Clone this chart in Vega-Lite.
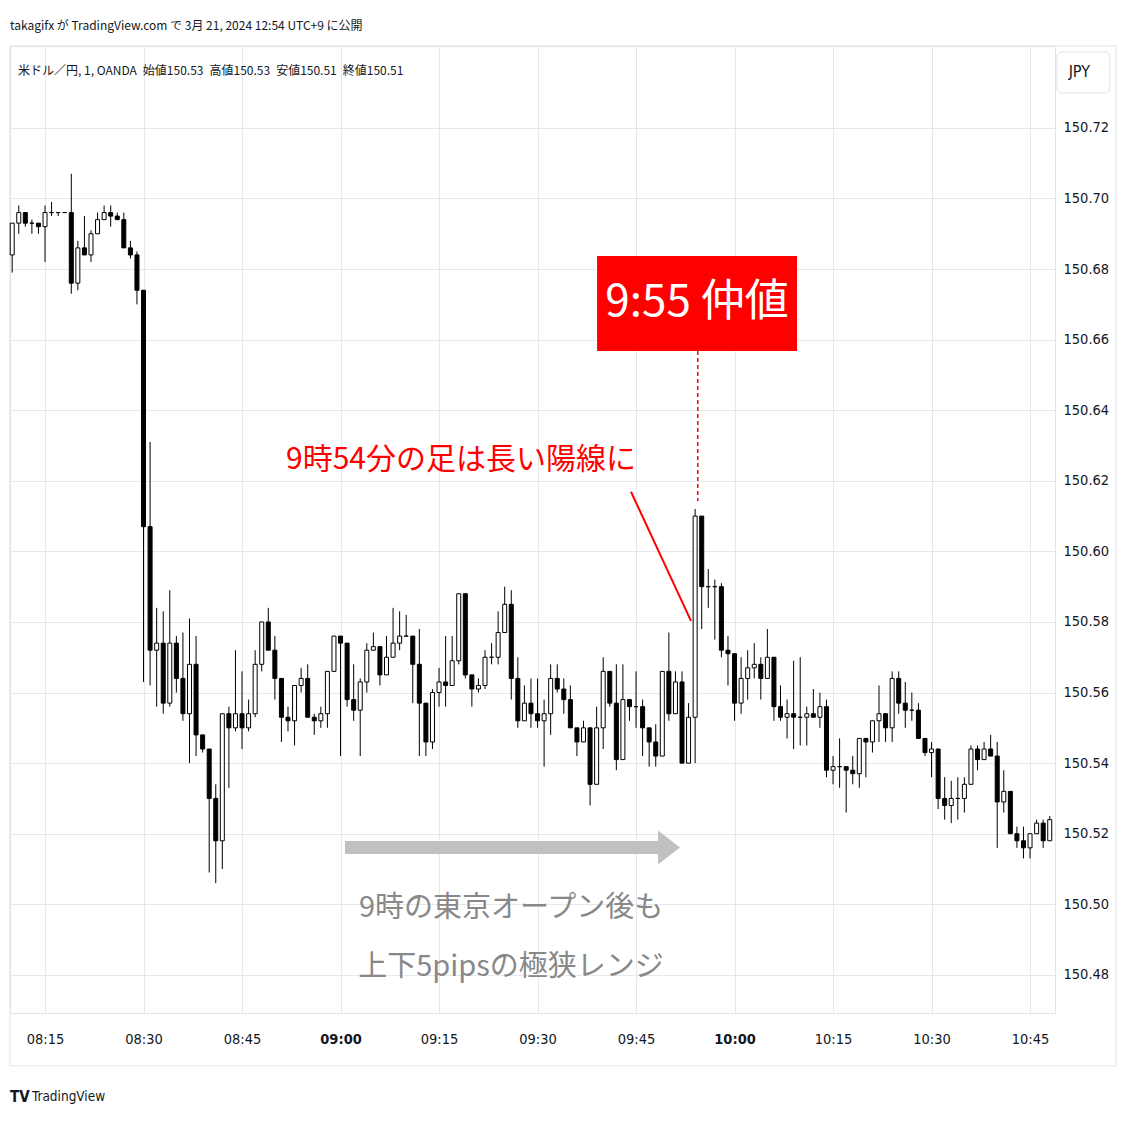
{
  "$schema": "https://vega.github.io/schema/vega-lite/v6.json",
  "width": 1045,
  "height": 967,
  "autosize": {"type": "none"},
  "padding": {"left": 10, "top": 46, "right": 70, "bottom": 112},
  "background": "#ffffff",
  "title": {"text": "takagifx が TradingView.com で 3月 21, 2024 12:54 UTC+9 に公開", "anchor": "start", "frame": "group", "orient": "top", "baseline": "bottom", "offset": 14, "dy": 13, "fontSize": 12, "fontWeight": "normal", "font": "Liberation Sans Narrow, Noto Sans CJK JP", "color": "#131722"},
  "config": {"view": {"stroke": "#e0e3eb", "strokeWidth": 1}, "font": "Noto Sans CJK JP"},
  "data": {"values": [
    {"t":"2024-03-21T08:10","o":150.684,"h":150.693,"l":150.679,"c":150.693},
    {"t":"2024-03-21T08:11","o":150.693,"h":150.698,"l":150.690,"c":150.696},
    {"t":"2024-03-21T08:12","o":150.696,"h":150.696,"l":150.692,"c":150.693},
    {"t":"2024-03-21T08:13","o":150.693,"h":150.694,"l":150.690,"c":150.693},
    {"t":"2024-03-21T08:14","o":150.693,"h":150.693,"l":150.690,"c":150.692},
    {"t":"2024-03-21T08:15","o":150.692,"h":150.698,"l":150.682,"c":150.696},
    {"t":"2024-03-21T08:16","o":150.696,"h":150.699,"l":150.695,"c":150.696},
    {"t":"2024-03-21T08:17","o":150.696,"h":150.696,"l":150.695,"c":150.696},
    {"t":"2024-03-21T08:18","o":150.696,"h":150.696,"l":150.696,"c":150.696},
    {"t":"2024-03-21T08:19","o":150.696,"h":150.707,"l":150.673,"c":150.676},
    {"t":"2024-03-21T08:20","o":150.676,"h":150.688,"l":150.674,"c":150.686},
    {"t":"2024-03-21T08:21","o":150.686,"h":150.695,"l":150.684,"c":150.684},
    {"t":"2024-03-21T08:22","o":150.684,"h":150.691,"l":150.682,"c":150.690},
    {"t":"2024-03-21T08:23","o":150.690,"h":150.696,"l":150.690,"c":150.694},
    {"t":"2024-03-21T08:24","o":150.694,"h":150.698,"l":150.694,"c":150.696},
    {"t":"2024-03-21T08:25","o":150.696,"h":150.698,"l":150.692,"c":150.695},
    {"t":"2024-03-21T08:26","o":150.695,"h":150.696,"l":150.694,"c":150.694},
    {"t":"2024-03-21T08:27","o":150.694,"h":150.696,"l":150.686,"c":150.686},
    {"t":"2024-03-21T08:28","o":150.686,"h":150.688,"l":150.683,"c":150.684},
    {"t":"2024-03-21T08:29","o":150.684,"h":150.685,"l":150.670,"c":150.674},
    {"t":"2024-03-21T08:30","o":150.674,"h":150.674,"l":150.563,"c":150.607},
    {"t":"2024-03-21T08:31","o":150.607,"h":150.631,"l":150.562,"c":150.572},
    {"t":"2024-03-21T08:32","o":150.572,"h":150.584,"l":150.556,"c":150.574},
    {"t":"2024-03-21T08:33","o":150.574,"h":150.583,"l":150.554,"c":150.557},
    {"t":"2024-03-21T08:34","o":150.557,"h":150.589,"l":150.556,"c":150.574},
    {"t":"2024-03-21T08:35","o":150.574,"h":150.576,"l":150.560,"c":150.564},
    {"t":"2024-03-21T08:36","o":150.564,"h":150.577,"l":150.552,"c":150.554},
    {"t":"2024-03-21T08:37","o":150.554,"h":150.581,"l":150.540,"c":150.568},
    {"t":"2024-03-21T08:38","o":150.568,"h":150.576,"l":150.542,"c":150.548},
    {"t":"2024-03-21T08:39","o":150.548,"h":150.548,"l":150.543,"c":150.544},
    {"t":"2024-03-21T08:40","o":150.544,"h":150.544,"l":150.509,"c":150.530},
    {"t":"2024-03-21T08:41","o":150.530,"h":150.534,"l":150.506,"c":150.518},
    {"t":"2024-03-21T08:42","o":150.518,"h":150.554,"l":150.510,"c":150.554},
    {"t":"2024-03-21T08:43","o":150.554,"h":150.556,"l":150.533,"c":150.550},
    {"t":"2024-03-21T08:44","o":150.550,"h":150.572,"l":150.549,"c":150.554},
    {"t":"2024-03-21T08:45","o":150.554,"h":150.566,"l":150.544,"c":150.550},
    {"t":"2024-03-21T08:46","o":150.550,"h":150.558,"l":150.549,"c":150.554},
    {"t":"2024-03-21T08:47","o":150.554,"h":150.572,"l":150.553,"c":150.568},
    {"t":"2024-03-21T08:48","o":150.568,"h":150.580,"l":150.566,"c":150.580},
    {"t":"2024-03-21T08:49","o":150.580,"h":150.584,"l":150.572,"c":150.572},
    {"t":"2024-03-21T08:50","o":150.572,"h":150.576,"l":150.558,"c":150.564},
    {"t":"2024-03-21T08:51","o":150.564,"h":150.564,"l":150.546,"c":150.553},
    {"t":"2024-03-21T08:52","o":150.553,"h":150.556,"l":150.549,"c":150.552},
    {"t":"2024-03-21T08:53","o":150.552,"h":150.562,"l":150.545,"c":150.562},
    {"t":"2024-03-21T08:54","o":150.562,"h":150.567,"l":150.560,"c":150.564},
    {"t":"2024-03-21T08:55","o":150.564,"h":150.568,"l":150.553,"c":150.553},
    {"t":"2024-03-21T08:56","o":150.553,"h":150.554,"l":150.548,"c":150.552},
    {"t":"2024-03-21T08:57","o":150.552,"h":150.556,"l":150.550,"c":150.554},
    {"t":"2024-03-21T08:58","o":150.554,"h":150.566,"l":150.550,"c":150.566},
    {"t":"2024-03-21T08:59","o":150.566,"h":150.576,"l":150.566,"c":150.576},
    {"t":"2024-03-21T09:00","o":150.576,"h":150.576,"l":150.542,"c":150.574},
    {"t":"2024-03-21T09:01","o":150.574,"h":150.574,"l":150.556,"c":150.558},
    {"t":"2024-03-21T09:02","o":150.558,"h":150.568,"l":150.552,"c":150.555},
    {"t":"2024-03-21T09:03","o":150.555,"h":150.564,"l":150.542,"c":150.563},
    {"t":"2024-03-21T09:04","o":150.563,"h":150.574,"l":150.560,"c":150.572},
    {"t":"2024-03-21T09:05","o":150.572,"h":150.577,"l":150.572,"c":150.573},
    {"t":"2024-03-21T09:06","o":150.573,"h":150.573,"l":150.562,"c":150.565},
    {"t":"2024-03-21T09:07","o":150.565,"h":150.576,"l":150.565,"c":150.570},
    {"t":"2024-03-21T09:08","o":150.570,"h":150.584,"l":150.570,"c":150.574},
    {"t":"2024-03-21T09:09","o":150.574,"h":150.583,"l":150.572,"c":150.576},
    {"t":"2024-03-21T09:10","o":150.576,"h":150.582,"l":150.576,"c":150.576},
    {"t":"2024-03-21T09:11","o":150.576,"h":150.576,"l":150.557,"c":150.568},
    {"t":"2024-03-21T09:12","o":150.568,"h":150.578,"l":150.542,"c":150.557},
    {"t":"2024-03-21T09:13","o":150.557,"h":150.557,"l":150.542,"c":150.546},
    {"t":"2024-03-21T09:14","o":150.546,"h":150.561,"l":150.544,"c":150.560},
    {"t":"2024-03-21T09:15","o":150.560,"h":150.567,"l":150.556,"c":150.563},
    {"t":"2024-03-21T09:16","o":150.563,"h":150.576,"l":150.556,"c":150.562},
    {"t":"2024-03-21T09:17","o":150.562,"h":150.576,"l":150.562,"c":150.569},
    {"t":"2024-03-21T09:18","o":150.569,"h":150.588,"l":150.568,"c":150.588},
    {"t":"2024-03-21T09:19","o":150.588,"h":150.588,"l":150.564,"c":150.565},
    {"t":"2024-03-21T09:20","o":150.565,"h":150.565,"l":150.556,"c":150.561},
    {"t":"2024-03-21T09:21","o":150.561,"h":150.564,"l":150.560,"c":150.562},
    {"t":"2024-03-21T09:22","o":150.562,"h":150.572,"l":150.561,"c":150.570},
    {"t":"2024-03-21T09:23","o":150.570,"h":150.574,"l":150.568,"c":150.570},
    {"t":"2024-03-21T09:24","o":150.570,"h":150.583,"l":150.568,"c":150.577},
    {"t":"2024-03-21T09:25","o":150.577,"h":150.590,"l":150.577,"c":150.585},
    {"t":"2024-03-21T09:26","o":150.585,"h":150.589,"l":150.558,"c":150.564},
    {"t":"2024-03-21T09:27","o":150.564,"h":150.570,"l":150.550,"c":150.552},
    {"t":"2024-03-21T09:28","o":150.552,"h":150.562,"l":150.552,"c":150.557},
    {"t":"2024-03-21T09:29","o":150.557,"h":150.564,"l":150.550,"c":150.554},
    {"t":"2024-03-21T09:30","o":150.554,"h":150.564,"l":150.550,"c":150.552},
    {"t":"2024-03-21T09:31","o":150.552,"h":150.558,"l":150.539,"c":150.554},
    {"t":"2024-03-21T09:32","o":150.554,"h":150.568,"l":150.548,"c":150.564},
    {"t":"2024-03-21T09:33","o":150.564,"h":150.568,"l":150.560,"c":150.561},
    {"t":"2024-03-21T09:34","o":150.561,"h":150.564,"l":150.554,"c":150.558},
    {"t":"2024-03-21T09:35","o":150.558,"h":150.562,"l":150.550,"c":150.550},
    {"t":"2024-03-21T09:36","o":150.550,"h":150.550,"l":150.542,"c":150.546},
    {"t":"2024-03-21T09:37","o":150.546,"h":150.552,"l":150.546,"c":150.550},
    {"t":"2024-03-21T09:38","o":150.550,"h":150.550,"l":150.528,"c":150.534},
    {"t":"2024-03-21T09:39","o":150.534,"h":150.556,"l":150.534,"c":150.550},
    {"t":"2024-03-21T09:40","o":150.550,"h":150.570,"l":150.544,"c":150.566},
    {"t":"2024-03-21T09:41","o":150.566,"h":150.566,"l":150.556,"c":150.557},
    {"t":"2024-03-21T09:42","o":150.557,"h":150.568,"l":150.538,"c":150.541},
    {"t":"2024-03-21T09:43","o":150.541,"h":150.568,"l":150.541,"c":150.558},
    {"t":"2024-03-21T09:44","o":150.558,"h":150.558,"l":150.552,"c":150.556},
    {"t":"2024-03-21T09:45","o":150.556,"h":150.566,"l":150.550,"c":150.556},
    {"t":"2024-03-21T09:46","o":150.556,"h":150.558,"l":150.542,"c":150.550},
    {"t":"2024-03-21T09:47","o":150.550,"h":150.550,"l":150.539,"c":150.546},
    {"t":"2024-03-21T09:48","o":150.546,"h":150.551,"l":150.539,"c":150.542},
    {"t":"2024-03-21T09:49","o":150.542,"h":150.566,"l":150.542,"c":150.566},
    {"t":"2024-03-21T09:50","o":150.566,"h":150.577,"l":150.552,"c":150.554},
    {"t":"2024-03-21T09:51","o":150.554,"h":150.566,"l":150.554,"c":150.563},
    {"t":"2024-03-21T09:52","o":150.563,"h":150.566,"l":150.540,"c":150.540},
    {"t":"2024-03-21T09:53","o":150.540,"h":150.557,"l":150.540,"c":150.553},
    {"t":"2024-03-21T09:54","o":150.553,"h":150.612,"l":150.540,"c":150.610},
    {"t":"2024-03-21T09:55","o":150.610,"h":150.610,"l":150.578,"c":150.590},
    {"t":"2024-03-21T09:56","o":150.590,"h":150.595,"l":150.584,"c":150.590},
    {"t":"2024-03-21T09:57","o":150.590,"h":150.592,"l":150.575,"c":150.590},
    {"t":"2024-03-21T09:58","o":150.590,"h":150.591,"l":150.570,"c":150.572},
    {"t":"2024-03-21T09:59","o":150.572,"h":150.576,"l":150.562,"c":150.571},
    {"t":"2024-03-21T10:00","o":150.571,"h":150.571,"l":150.552,"c":150.557},
    {"t":"2024-03-21T10:01","o":150.557,"h":150.570,"l":150.554,"c":150.564},
    {"t":"2024-03-21T10:02","o":150.564,"h":150.572,"l":150.558,"c":150.567},
    {"t":"2024-03-21T10:03","o":150.567,"h":150.574,"l":150.564,"c":150.568},
    {"t":"2024-03-21T10:04","o":150.568,"h":150.570,"l":150.558,"c":150.564},
    {"t":"2024-03-21T10:05","o":150.564,"h":150.578,"l":150.564,"c":150.570},
    {"t":"2024-03-21T10:06","o":150.570,"h":150.570,"l":150.552,"c":150.556},
    {"t":"2024-03-21T10:07","o":150.556,"h":150.562,"l":150.552,"c":150.553},
    {"t":"2024-03-21T10:08","o":150.553,"h":150.558,"l":150.547,"c":150.554},
    {"t":"2024-03-21T10:09","o":150.554,"h":150.569,"l":150.544,"c":150.553},
    {"t":"2024-03-21T10:10","o":150.553,"h":150.570,"l":150.545,"c":150.553},
    {"t":"2024-03-21T10:11","o":150.553,"h":150.556,"l":150.545,"c":150.554},
    {"t":"2024-03-21T10:12","o":150.554,"h":150.561,"l":150.553,"c":150.553},
    {"t":"2024-03-21T10:13","o":150.553,"h":150.560,"l":150.550,"c":150.556},
    {"t":"2024-03-21T10:14","o":150.556,"h":150.558,"l":150.536,"c":150.538},
    {"t":"2024-03-21T10:15","o":150.538,"h":150.542,"l":150.534,"c":150.539},
    {"t":"2024-03-21T10:16","o":150.539,"h":150.547,"l":150.533,"c":150.539},
    {"t":"2024-03-21T10:17","o":150.539,"h":150.539,"l":150.526,"c":150.538},
    {"t":"2024-03-21T10:18","o":150.538,"h":150.542,"l":150.534,"c":150.537},
    {"t":"2024-03-21T10:19","o":150.537,"h":150.547,"l":150.533,"c":150.547},
    {"t":"2024-03-21T10:20","o":150.547,"h":150.547,"l":150.536,"c":150.546},
    {"t":"2024-03-21T10:21","o":150.546,"h":150.552,"l":150.543,"c":150.552},
    {"t":"2024-03-21T10:22","o":150.552,"h":150.562,"l":150.546,"c":150.554},
    {"t":"2024-03-21T10:23","o":150.554,"h":150.554,"l":150.546,"c":150.550},
    {"t":"2024-03-21T10:24","o":150.550,"h":150.566,"l":150.546,"c":150.564},
    {"t":"2024-03-21T10:25","o":150.564,"h":150.566,"l":150.554,"c":150.557},
    {"t":"2024-03-21T10:26","o":150.557,"h":150.563,"l":150.550,"c":150.555},
    {"t":"2024-03-21T10:27","o":150.555,"h":150.560,"l":150.552,"c":150.555},
    {"t":"2024-03-21T10:28","o":150.555,"h":150.557,"l":150.547,"c":150.547},
    {"t":"2024-03-21T10:29","o":150.547,"h":150.547,"l":150.542,"c":150.543},
    {"t":"2024-03-21T10:30","o":150.543,"h":150.546,"l":150.536,"c":150.544},
    {"t":"2024-03-21T10:31","o":150.544,"h":150.544,"l":150.527,"c":150.530},
    {"t":"2024-03-21T10:32","o":150.530,"h":150.536,"l":150.524,"c":150.528},
    {"t":"2024-03-21T10:33","o":150.528,"h":150.535,"l":150.523,"c":150.530},
    {"t":"2024-03-21T10:34","o":150.530,"h":150.536,"l":150.524,"c":150.530},
    {"t":"2024-03-21T10:35","o":150.530,"h":150.536,"l":150.526,"c":150.534},
    {"t":"2024-03-21T10:36","o":150.534,"h":150.545,"l":150.534,"c":150.544},
    {"t":"2024-03-21T10:37","o":150.544,"h":150.545,"l":150.538,"c":150.541},
    {"t":"2024-03-21T10:38","o":150.541,"h":150.546,"l":150.541,"c":150.544},
    {"t":"2024-03-21T10:39","o":150.544,"h":150.548,"l":150.542,"c":150.542},
    {"t":"2024-03-21T10:40","o":150.542,"h":150.546,"l":150.516,"c":150.529},
    {"t":"2024-03-21T10:41","o":150.529,"h":150.538,"l":150.526,"c":150.532},
    {"t":"2024-03-21T10:42","o":150.532,"h":150.532,"l":150.520,"c":150.520},
    {"t":"2024-03-21T10:43","o":150.520,"h":150.522,"l":150.516,"c":150.518},
    {"t":"2024-03-21T10:44","o":150.518,"h":150.522,"l":150.513,"c":150.516},
    {"t":"2024-03-21T10:45","o":150.516,"h":150.520,"l":150.513,"c":150.520},
    {"t":"2024-03-21T10:46","o":150.520,"h":150.524,"l":150.520,"c":150.523},
    {"t":"2024-03-21T10:47","o":150.523,"h":150.524,"l":150.516,"c":150.518},
    {"t":"2024-03-21T10:48","o":150.518,"h":150.525,"l":150.518,"c":150.524}
  ]},
  "layer": [
    {
      "mark": {"type": "rule", "color": "#000000", "strokeWidth": 1},
      "encoding": {
        "x": {"field": "t", "type": "temporal", "scale": {"domain": [{"year":2024,"month":3,"date":21,"hours":8,"minutes":9,"seconds":40},{"year":2024,"month":3,"date":21,"hours":10,"minutes":48,"seconds":48}], "nice": false, "padding": 0},
          "axis": {"title": null, "orient": "bottom", "format": "%H:%M", "grid": true, "gridColor": "#e6e8ee", "gridWidth": 1, "ticks": false, "domain": false, "labelPadding": 19, "labelFontSize": 14.5, "labelFont": "Liberation Sans Narrow, DejaVu Sans Condensed, Roboto", "labelColor": "#131722",
            "labelFontWeight": {"condition": {"test": "minutes(datum.value) === 0", "value": "bold"}, "value": "normal"},
            "values": [
              {"year":2024,"month":3,"date":21,"hours":8,"minutes":15},
              {"year":2024,"month":3,"date":21,"hours":8,"minutes":30},
              {"year":2024,"month":3,"date":21,"hours":8,"minutes":45},
              {"year":2024,"month":3,"date":21,"hours":9,"minutes":0},
              {"year":2024,"month":3,"date":21,"hours":9,"minutes":15},
              {"year":2024,"month":3,"date":21,"hours":9,"minutes":30},
              {"year":2024,"month":3,"date":21,"hours":9,"minutes":45},
              {"year":2024,"month":3,"date":21,"hours":10,"minutes":0},
              {"year":2024,"month":3,"date":21,"hours":10,"minutes":15},
              {"year":2024,"month":3,"date":21,"hours":10,"minutes":30},
              {"year":2024,"month":3,"date":21,"hours":10,"minutes":45}
            ]}},
        "y": {"field": "l", "type": "quantitative", "scale": {"domain": [150.4692, 150.7432], "nice": false, "zero": false},
          "axis": {"title": null, "orient": "right", "format": ".2f", "values": [150.48,150.50,150.52,150.54,150.56,150.58,150.60,150.62,150.64,150.66,150.68,150.70,150.72], "grid": true, "gridColor": "#e6e8ee", "gridWidth": 1, "ticks": false, "domain": false, "labelPadding": 8, "labelFontSize": 14.5, "labelFont": "Liberation Sans Narrow, DejaVu Sans Condensed, Roboto", "labelColor": "#131722"}},
        "y2": {"field": "h"}
      }
    },
    {
      "data": {"values": [{}]},
      "mark": {"type": "rect", "fill": "transparent", "stroke": "#e0e3eb", "strokeWidth": 1},
      "encoding": {
        "x": {"datum": {"year":2024,"month":3,"date":21,"hours":8,"minutes":9,"seconds":40}, "type": "temporal", "scale": {"domain": [{"year":2024,"month":3,"date":21,"hours":8,"minutes":9,"seconds":40},{"year":2024,"month":3,"date":21,"hours":10,"minutes":48,"seconds":48}], "nice": false, "padding": 0}},
        "x2": {"datum": {"year":2024,"month":3,"date":21,"hours":10,"minutes":58,"seconds":5}},
        "y": {"datum": 150.4542, "type": "quantitative", "scale": {"domain": [150.4692, 150.7432], "nice": false, "zero": false}},
        "y2": {"datum": 150.7432}
      }
    },
    {
      "mark": {"type": "bar", "size": 4, "stroke": "#000000", "strokeWidth": 1},
      "encoding": {
        "x": {"field": "t", "type": "temporal", "scale": {"domain": [{"year":2024,"month":3,"date":21,"hours":8,"minutes":9,"seconds":40},{"year":2024,"month":3,"date":21,"hours":10,"minutes":48,"seconds":48}], "nice": false, "padding": 0}},
        "y": {"field": "o", "type": "quantitative", "scale": {"domain": [150.4692, 150.7432], "nice": false, "zero": false}},
        "y2": {"field": "c"},
        "fill": {"condition": {"test": "datum.c >= datum.o", "value": "#ffffff"}, "value": "#000000"}
      }
    },
    {
      "data": {"values": [{}]},
      "mark": {"type": "rect", "fill": "#ff0000"},
      "encoding": {
        "x": {"datum": {"year":2024,"month":3,"date":21,"hours":9,"minutes":39,"seconds":4}, "type": "temporal", "scale": {"domain": [{"year":2024,"month":3,"date":21,"hours":8,"minutes":9,"seconds":40},{"year":2024,"month":3,"date":21,"hours":10,"minutes":48,"seconds":48}], "nice": false, "padding": 0}},
        "x2": {"datum": {"year":2024,"month":3,"date":21,"hours":10,"minutes":9,"seconds":31}},
        "y": {"datum": 150.6568, "type": "quantitative", "scale": {"domain": [150.4692, 150.7432], "nice": false, "zero": false}},
        "y2": {"datum": 150.6837}
      }
    },
    {
      "data": {"values": [{}]},
      "mark": {"type": "text", "text": "9:55 仲値", "color": "#ffffff", "fontSize": 44, "font": "Noto Sans CJK JP", "align": "center", "baseline": "middle"},
      "encoding": {
        "x": {"datum": {"year":2024,"month":3,"date":21,"hours":9,"minutes":54,"seconds":17}, "type": "temporal", "scale": {"domain": [{"year":2024,"month":3,"date":21,"hours":8,"minutes":9,"seconds":40},{"year":2024,"month":3,"date":21,"hours":10,"minutes":48,"seconds":48}], "nice": false, "padding": 0}},
        "y": {"datum": 150.6703, "type": "quantitative", "scale": {"domain": [150.4692, 150.7432], "nice": false, "zero": false}}
      }
    },
    {
      "data": {"values": [{}]},
      "mark": {"type": "rule", "color": "#ff0000", "strokeWidth": 1.5, "strokeDash": [4, 3]},
      "encoding": {
        "x": {"datum": {"year":2024,"month":3,"date":21,"hours":9,"minutes":54,"seconds":24}, "type": "temporal", "scale": {"domain": [{"year":2024,"month":3,"date":21,"hours":8,"minutes":9,"seconds":40},{"year":2024,"month":3,"date":21,"hours":10,"minutes":48,"seconds":48}], "nice": false, "padding": 0}},
        "y": {"datum": 150.6568, "type": "quantitative", "scale": {"domain": [150.4692, 150.7432], "nice": false, "zero": false}},
        "y2": {"datum": 150.6143}
      }
    },
    {
      "data": {"values": [{}]},
      "mark": {"type": "rule", "color": "#ff0000", "strokeWidth": 2},
      "encoding": {
        "x": {"datum": {"year":2024,"month":3,"date":21,"hours":9,"minutes":44,"seconds":14}, "type": "temporal", "scale": {"domain": [{"year":2024,"month":3,"date":21,"hours":8,"minutes":9,"seconds":40},{"year":2024,"month":3,"date":21,"hours":10,"minutes":48,"seconds":48}], "nice": false, "padding": 0}},
        "x2": {"datum": {"year":2024,"month":3,"date":21,"hours":9,"minutes":53,"seconds":22}},
        "y": {"datum": 150.6169, "type": "quantitative", "scale": {"domain": [150.4692, 150.7432], "nice": false, "zero": false}},
        "y2": {"datum": 150.5803}
      }
    },
    {
      "data": {"values": [{}]},
      "mark": {"type": "text", "text": "9時54分の足は長い陽線に", "color": "#ff0000", "fontSize": 30, "font": "Noto Sans CJK JP", "align": "center", "baseline": "middle"},
      "encoding": {
        "x": {"datum": {"year":2024,"month":3,"date":21,"hours":9,"minutes":18,"seconds":21}, "type": "temporal", "scale": {"domain": [{"year":2024,"month":3,"date":21,"hours":8,"minutes":9,"seconds":40},{"year":2024,"month":3,"date":21,"hours":10,"minutes":48,"seconds":48}], "nice": false, "padding": 0}},
        "y": {"datum": 150.6259, "type": "quantitative", "scale": {"domain": [150.4692, 150.7432], "nice": false, "zero": false}}
      }
    },
    {
      "data": {"values": [{}]},
      "mark": {"type": "rule", "color": "#c0c0c0", "strokeWidth": 13},
      "encoding": {
        "x": {"datum": {"year":2024,"month":3,"date":21,"hours":9,"minutes":0,"seconds":41}, "type": "temporal", "scale": {"domain": [{"year":2024,"month":3,"date":21,"hours":8,"minutes":9,"seconds":40},{"year":2024,"month":3,"date":21,"hours":10,"minutes":48,"seconds":48}], "nice": false, "padding": 0}},
        "x2": {"datum": {"year":2024,"month":3,"date":21,"hours":9,"minutes":48,"seconds":57}},
        "y": {"datum": 150.5161, "type": "quantitative", "scale": {"domain": [150.4692, 150.7432], "nice": false, "zero": false}}
      }
    },
    {
      "data": {"values": [{}]},
      "mark": {"type": "point", "shape": "M-0.65,-1L0.65,0L-0.65,1Z", "filled": true, "fill": "#c0c0c0", "fillOpacity": 1, "strokeWidth": 0, "size": 1156},
      "encoding": {
        "x": {"datum": {"year":2024,"month":3,"date":21,"hours":9,"minutes":50,"seconds":1}, "type": "temporal", "scale": {"domain": [{"year":2024,"month":3,"date":21,"hours":8,"minutes":9,"seconds":40},{"year":2024,"month":3,"date":21,"hours":10,"minutes":48,"seconds":48}], "nice": false, "padding": 0}},
        "y": {"datum": 150.5161, "type": "quantitative", "scale": {"domain": [150.4692, 150.7432], "nice": false, "zero": false}}
      }
    },
    {
      "data": {"values": [{"line": "9時の東京オープン後も", "k": 0}, {"line": "上下5pipsの極狭レンジ", "k": 1}]},
      "mark": {"type": "text", "text": {"expr": "datum.line"}, "color": "#888888", "fontSize": 29, "font": "Noto Sans CJK JP", "align": "center", "baseline": "middle", "dy": {"expr": "datum.k * 59 - 28"}},
      "encoding": {
        "x": {"datum": {"year":2024,"month":3,"date":21,"hours":9,"minutes":25,"seconds":58}, "type": "temporal", "scale": {"domain": [{"year":2024,"month":3,"date":21,"hours":8,"minutes":9,"seconds":40},{"year":2024,"month":3,"date":21,"hours":10,"minutes":48,"seconds":48}], "nice": false, "padding": 0}},
        "y": {"datum": 150.4909, "type": "quantitative", "scale": {"domain": [150.4692, 150.7432], "nice": false, "zero": false}}
      }
    },
    {
      "data": {"values": [{}]},
      "mark": {"type": "text", "text": "米ドル／円, 1, OANDA\u2002始値150.53\u2002高値150.53\u2002安値150.51\u2002終値150.51", "color": "#131722", "fontSize": 12, "font": "Liberation Sans Narrow, Noto Sans CJK JP", "align": "left", "baseline": "middle"},
      "encoding": {
        "x": {"datum": {"year":2024,"month":3,"date":21,"hours":8,"minutes":10,"seconds":53}, "type": "temporal", "scale": {"domain": [{"year":2024,"month":3,"date":21,"hours":8,"minutes":9,"seconds":40},{"year":2024,"month":3,"date":21,"hours":10,"minutes":48,"seconds":48}], "nice": false, "padding": 0}},
        "y": {"datum": 150.7362, "type": "quantitative", "scale": {"domain": [150.4692, 150.7432], "nice": false, "zero": false}}
      }
    },
    {
      "data": {"values": [{}]},
      "mark": {"type": "rect", "fill": "#ffffff", "stroke": "#e0e3eb", "strokeWidth": 1, "cornerRadius": 5},
      "encoding": {
        "x": {"datum": {"year":2024,"month":3,"date":21,"hours":10,"minutes":49,"seconds":6}, "type": "temporal", "scale": {"domain": [{"year":2024,"month":3,"date":21,"hours":8,"minutes":9,"seconds":40},{"year":2024,"month":3,"date":21,"hours":10,"minutes":48,"seconds":48}], "nice": false, "padding": 0}},
        "x2": {"datum": {"year":2024,"month":3,"date":21,"hours":10,"minutes":57,"seconds":10}},
        "y": {"datum": 150.7299, "type": "quantitative", "scale": {"domain": [150.4692, 150.7432], "nice": false, "zero": false}},
        "y2": {"datum": 150.7415}
      }
    },
    {
      "data": {"values": [{}]},
      "mark": {"type": "text", "text": "JPY", "color": "#131722", "fontSize": 16, "font": "Liberation Sans Narrow, DejaVu Sans Condensed, Roboto", "align": "center", "baseline": "middle"},
      "encoding": {
        "x": {"datum": {"year":2024,"month":3,"date":21,"hours":10,"minutes":52,"seconds":30}, "type": "temporal", "scale": {"domain": [{"year":2024,"month":3,"date":21,"hours":8,"minutes":9,"seconds":40},{"year":2024,"month":3,"date":21,"hours":10,"minutes":48,"seconds":48}], "nice": false, "padding": 0}},
        "y": {"datum": 150.7357, "type": "quantitative", "scale": {"domain": [150.4692, 150.7432], "nice": false, "zero": false}}
      }
    },
    {
      "data": {"values": [{}]},
      "mark": {"type": "text", "text": "TV", "color": "#131722", "fontSize": 15, "fontWeight": "bold", "font": "Liberation Sans Narrow, DejaVu Sans Condensed, Roboto", "align": "left", "baseline": "middle"},
      "encoding": {
        "x": {"datum": {"year":2024,"month":3,"date":21,"hours":8,"minutes":9,"seconds":40}, "type": "temporal", "scale": {"domain": [{"year":2024,"month":3,"date":21,"hours":8,"minutes":9,"seconds":40},{"year":2024,"month":3,"date":21,"hours":10,"minutes":48,"seconds":48}], "nice": false, "padding": 0}},
        "y": {"datum": 150.4454, "type": "quantitative", "scale": {"domain": [150.4692, 150.7432], "nice": false, "zero": false}}
      }
    },
    {
      "data": {"values": [{}]},
      "mark": {"type": "text", "text": "TradingView", "color": "#131722", "fontSize": 13.5, "font": "Liberation Sans Narrow, DejaVu Sans Condensed, Roboto", "align": "left", "baseline": "middle"},
      "encoding": {
        "x": {"datum": {"year":2024,"month":3,"date":21,"hours":8,"minutes":13,"seconds":1}, "type": "temporal", "scale": {"domain": [{"year":2024,"month":3,"date":21,"hours":8,"minutes":9,"seconds":40},{"year":2024,"month":3,"date":21,"hours":10,"minutes":48,"seconds":48}], "nice": false, "padding": 0}},
        "y": {"datum": 150.4454, "type": "quantitative", "scale": {"domain": [150.4692, 150.7432], "nice": false, "zero": false}}
      }
    }
  ]
}
